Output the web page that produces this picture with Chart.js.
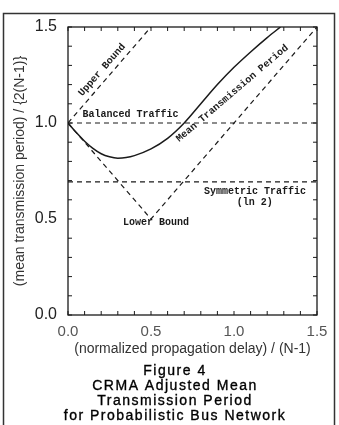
<!DOCTYPE html>
<html><head><meta charset="utf-8">
<script src="https://cdn.jsdelivr.net/npm/chart.js@4.4.1/dist/chart.umd.min.js"></script>
<style>html,body{margin:0;padding:0;background:#fff;}#wrap{width:339px;height:425px;position:relative;}</style>
</head><body><div id="wrap"><canvas id="c" width="339" height="425"></canvas></div>
<script>
// ---- data ----
const meanX = [0, 0.05, 0.1, 0.15, 0.2, 0.25, 0.3, 0.35, 0.4, 0.5, 0.6, 0.7, 0.8, 0.9, 1.0, 1.1, 1.2, 1.28];
const meanY = [1.0, 0.95, 0.905, 0.868, 0.84, 0.824, 0.817, 0.82, 0.83, 0.865, 0.92, 1.0, 1.1, 1.2, 1.29, 1.37, 1.445, 1.5];
const upperX = [0, 0.5];
const upperY = [1.0, 1.5];
const lowerX = [0, 0.5, 1.5];
const lowerY = [1.0, 0.5, 1.5];
const balancedX = [0, 1.5];
const balancedY = [1.0, 1.0];
const symmetricX = [0, 1.5];
const symmetricY = [0.693, 0.693];
const tickValues = [0, 0.5, 1.0, 1.5];
const minorTicks = [0,0.1,0.2,0.3,0.4,0.5,0.6,0.7,0.8,0.9,1.0,1.1,1.2,1.3,1.4,1.5];
const xTitle = '(normalized propagation delay) / (N-1)';
const yTitle = '(mean transmission period) / {2(N-1)}';
const caption = ['Figure 4', 'CRMA Adjusted Mean', 'Transmission Period', 'for Probabilistic Bus Network'];

const pts = (xs, ys) => xs.map((x, i) => ({x: x, y: ys[i]}));
const INK = '#1a1a1a';

const annotations = [
  {text: 'Upper Bound', x: 0.205, y: 1.276, angle: -49},
  {text: 'Balanced Traffic', x: 0.376, y: 1.042, angle: 0},
  {text: 'Mean Transmission Period', x: 0.99, y: 1.154, angle: -40.5},
  {text: 'Symmetric Traffic', x: 1.127, y: 0.642, angle: 0},
  {text: '(ln 2)', x: 1.125, y: 0.584, angle: 0},
  {text: 'Lower Bound', x: 0.53, y: 0.484, angle: 0}
];

const decor = {
  id: 'decor',
  afterDatasetsDraw(chart) {
    const {ctx, chartArea: a, scales: {x, y}} = chart;
    ctx.save();
    ctx.strokeStyle = INK; ctx.lineWidth = 1.3;
    ctx.strokeRect(a.left, a.top, a.right - a.left, a.bottom - a.top);
    ctx.lineWidth = 1;
    ctx.beginPath();
    minorTicks.forEach(v => {
      const px = x.getPixelForValue(v), py = y.getPixelForValue(v);
      ctx.moveTo(px, a.bottom); ctx.lineTo(px, a.bottom - 4);
      ctx.moveTo(px, a.top); ctx.lineTo(px, a.top + 4);
      ctx.moveTo(a.left, py); ctx.lineTo(a.left + 4, py);
      ctx.moveTo(a.right, py); ctx.lineTo(a.right - 4, py);
    });
    ctx.stroke();
    ctx.fillStyle = INK;
    ctx.font = 'bold 10px "Liberation Mono", monospace';
    ctx.textAlign = 'center'; ctx.textBaseline = 'middle';
    annotations.forEach(n => {
      ctx.save();
      ctx.translate(x.getPixelForValue(n.x), y.getPixelForValue(n.y));
      ctx.rotate(n.angle * Math.PI / 180);
      ctx.fillText(n.text, 0, 0);
      ctx.restore();
    });
    ctx.restore();
  },
  afterDraw(chart) {
    const {ctx} = chart;
    ctx.save();
    ctx.strokeStyle = '#333'; ctx.lineWidth = 1.5;
    ctx.strokeRect(3.5, 13.5, 331, 450);
    ctx.fillStyle = '#000';
    ctx.strokeStyle = '#000'; ctx.lineWidth = 0.35;
    ctx.font = '14px "Liberation Sans", Arial, sans-serif';
    try { ctx.letterSpacing = '1.5px'; } catch (e) {}
    ctx.textAlign = 'center'; ctx.textBaseline = 'middle';
    const ys = [371, 386, 401, 416];
    caption.forEach((t, i) => { ctx.fillText(t, 175, ys[i]); ctx.strokeText(t, 175, ys[i]); });
    ctx.restore();
  }
};

const dashed = {borderDash: [5, 4], borderWidth: 1.2, borderColor: INK, pointRadius: 0, fill: false, tension: 0};

new Chart(document.getElementById('c'), {
  type: 'line',
  data: {
    datasets: [
      {label: 'Mean Transmission Period', data: pts(meanX, meanY), borderColor: INK, borderWidth: 1.5,
       pointRadius: 0, fill: false, cubicInterpolationMode: 'monotone'},
      Object.assign({label: 'Upper Bound', data: pts(upperX, upperY)}, dashed),
      Object.assign({label: 'Lower Bound', data: pts(lowerX, lowerY)}, dashed),
      Object.assign({label: 'Balanced Traffic', data: pts(balancedX, balancedY)}, dashed),
      Object.assign({label: 'Symmetric Traffic (ln 2)', data: pts(symmetricX, symmetricY)}, dashed)
    ]
  },
  options: {
    responsive: false, animation: false, devicePixelRatio: 1,
    layout: {padding: {left: 0, top: 27, right: 22, bottom: 65}},
    plugins: {legend: {display: false}, tooltip: {enabled: false}, title: {display: false}},
    scales: {
      x: {
        type: 'linear', min: 0, max: 1.5,
        afterBuildTicks: s => { s.ticks = tickValues.map(v => ({value: v})); },
        afterFit: s => { s.height = 45; },
        grid: {display: false, drawTicks: false}, border: {display: false},
        ticks: {font: {family: '"Liberation Sans", Arial', size: 15}, color: '#555', padding: 8, maxRotation: 0,
                callback: v => Number(v).toFixed(1)},
        title: {display: true, text: xTitle, color: '#333', font: {family: '"Liberation Sans", Arial', size: 14},
                padding: {top: 0, bottom: 2}}
      },
      y: {
        type: 'linear', min: 0, max: 1.5,
        afterBuildTicks: s => { s.ticks = tickValues.map(v => ({value: v})); },
        afterFit: s => { s.width = 68; },
        grid: {display: false, drawTicks: false}, border: {display: false},
        ticks: {font: {family: '"Liberation Sans", Arial', size: 16}, color: '#222', padding: 11,
                callback: v => Number(v).toFixed(1)},
        title: {display: true, text: yTitle, color: '#333', font: {family: '"Liberation Sans", Arial', size: 14},
                padding: {top: 12, bottom: 0}}
      }
    }
  },
  plugins: [decor]
});
</script></body></html>
